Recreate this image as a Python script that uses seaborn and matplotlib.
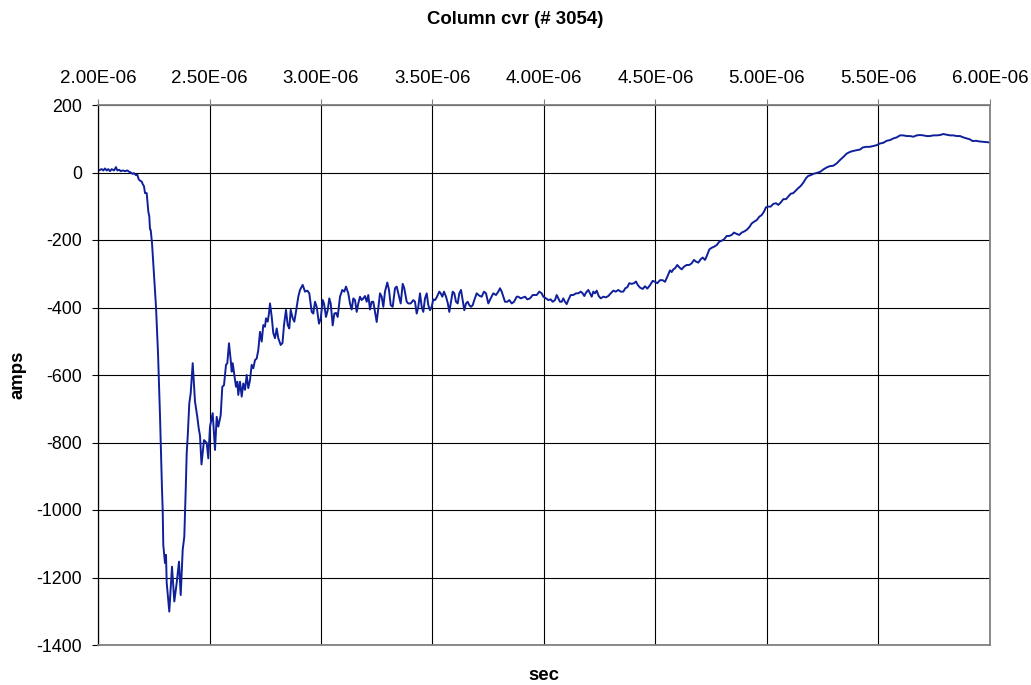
import numpy as np
import pandas as pd
import matplotlib
matplotlib.use("Agg")
import matplotlib.pyplot as plt
import matplotlib.ticker as mticker
import seaborn as sns

# Column current probe record, shot #3054 (time in microseconds, current in amps)
time_us = [
    2.0000, 2.0090, 2.0166, 2.0238, 2.0314, 2.0390, 2.0462, 2.0538, 2.0614, 2.0717,
    2.0807, 2.0865, 2.0955, 2.1018, 2.1108, 2.1211, 2.1314, 2.1404, 2.1466, 2.1556,
    2.1614, 2.1704, 2.1762, 2.1825, 2.1883, 2.1960, 2.2004, 2.2063, 2.2108, 2.2184,
    2.2256, 2.2300, 2.2332, 2.2363, 2.2422, 2.2480, 2.2556, 2.2601, 2.2646, 2.2691,
    2.2735, 2.2780, 2.2812, 2.2870, 2.2901, 2.2928, 2.3004, 2.3049, 2.3081, 2.3197,
    2.3318, 2.3422, 2.3529, 2.3632, 2.3709, 2.3798, 2.3870, 2.3933, 2.3978, 2.4022,
    2.4094, 2.4157, 2.4247, 2.4350, 2.4453, 2.4516, 2.4574, 2.4641, 2.4753, 2.4874,
    2.4946, 2.5022, 2.5143, 2.5247, 2.5323, 2.5395, 2.5502, 2.5574, 2.5650, 2.5740,
    2.5798, 2.5874, 2.5951, 2.5996, 2.6040, 2.6112, 2.6188, 2.6247, 2.6291, 2.6368,
    2.6444, 2.6516, 2.6592, 2.6668, 2.6740, 2.6816, 2.6892, 2.6964, 2.7040, 2.7117,
    2.7188, 2.7265, 2.7341, 2.7413, 2.7489, 2.7534, 2.7610, 2.7668, 2.7713, 2.7789,
    2.7861, 2.7937, 2.8013, 2.8085, 2.8193, 2.8274, 2.8341, 2.8430, 2.8507, 2.8578,
    2.8641, 2.8731, 2.8803, 2.8879, 2.8982,
    2.9058, 2.9179, 2.9283, 2.9386, 2.9475, 2.9583, 2.9655, 2.9731, 2.9807, 2.9910,
    2.9987, 3.0076, 3.0135, 3.0224, 3.0300, 3.0372, 3.0435, 3.0525, 3.0597, 3.0673,
    3.0749, 3.0852, 3.0955, 3.1045, 3.1121, 3.1224, 3.1300, 3.1377, 3.1448, 3.1525,
    3.1601, 3.1673, 3.1749, 3.1825, 3.1897, 3.1973, 3.2049, 3.2121, 3.2197, 3.2273,
    3.2345, 3.2422, 3.2498, 3.2570, 3.2646, 3.2722, 3.2794, 3.2870, 3.2973, 3.3049,
    3.3126, 3.3215, 3.3318, 3.3395, 3.3466, 3.3574, 3.3664, 3.3735, 3.3843, 3.3915,
    3.4022, 3.4139, 3.4215, 3.4291, 3.4363, 3.4439, 3.4516, 3.4587, 3.4664, 3.4740,
    3.4812, 3.4888, 3.4964, 3.5036, 3.5112, 3.5188, 3.5305, 3.5368, 3.5440, 3.5516,
    3.5605, 3.5682, 3.5753, 3.5830, 3.5906, 3.5978, 3.6054, 3.6130, 3.6202, 3.6278,
    3.6354, 3.6426, 3.6502, 3.6578, 3.6650, 3.6726, 3.6803, 3.6874, 3.6982, 3.7099,
    3.7206, 3.7309, 3.7399, 3.7502, 3.7610, 3.7726, 3.7848, 3.7951, 3.8027, 3.8103,
    3.8175, 3.8251, 3.8354, 3.8444, 3.8552, 3.8655, 3.8776, 3.8848, 3.8955, 3.9072,
    3.9148, 3.9251, 3.9372, 3.9493, 3.9596, 3.9673, 3.9789, 3.9897, 3.9969, 4.0090,
    4.0193, 4.0300, 4.0390, 4.0493, 4.0569, 4.0641, 4.0717, 4.0794, 4.0865, 4.0942,
    4.1018, 4.1090, 4.1197, 4.1314, 4.1435, 4.1538, 4.1646, 4.1735, 4.1807, 4.1883,
    4.1986, 4.2063, 4.2139, 4.2211, 4.2287, 4.2363, 4.2453, 4.2542, 4.2659, 4.2780,
    4.2883, 4.2991, 4.3108, 4.3215, 4.3332, 4.3439, 4.3556, 4.3646, 4.3735, 4.3825,
    4.3933, 4.4036, 4.4126, 4.4202, 4.4305, 4.4426, 4.4529, 4.4632, 4.4753, 4.4874,
    4.4978, 4.5081, 4.5202, 4.5323, 4.5426, 4.5529, 4.5650, 4.5726, 4.5798, 4.5874,
    4.5977, 4.6067, 4.6175, 4.6278, 4.6399, 4.6516, 4.6623, 4.6726, 4.6816, 4.6919,
    4.7027, 4.7117, 4.7220, 4.7296, 4.7413, 4.7520, 4.7623, 4.7744, 4.7861, 4.7969,
    4.8072, 4.8193, 4.8310, 4.8417, 4.8520, 4.8641, 4.8758, 4.8865, 4.8969, 4.9090,
    4.9206, 4.9314, 4.9417, 4.9538, 4.9655, 4.9762, 4.9865, 4.9955, 5.0058, 5.0166,
    5.0283, 5.0404, 5.0507, 5.0614, 5.0731, 5.0852, 5.0955, 5.1063, 5.1179, 5.1300,
    5.1404, 5.1511, 5.1628, 5.1749, 5.1852, 5.1959, 5.2076, 5.2197, 5.2300, 5.2408,
    5.2525, 5.2677, 5.2825, 5.2973, 5.3126, 5.3274, 5.3422, 5.3574, 5.3722, 5.3870,
    5.4022, 5.4170, 5.4291, 5.4439, 5.4587, 5.4740, 5.4919, 5.5067, 5.5215, 5.5368,
    5.5516, 5.5664, 5.5816, 5.5964, 5.6112, 5.6265, 5.6413, 5.6561, 5.6713, 5.6861,
    5.7009, 5.7161, 5.7309, 5.7457, 5.7610, 5.7758, 5.7906, 5.8058, 5.8206, 5.8354,
    5.8507, 5.8655, 5.8803, 5.8955, 5.9103, 5.9224, 5.9372, 5.9520, 5.9672, 5.9821,
    6.0000,
]

current_amps = [
    5, 8, 10, 6, 12, 6, 10, 4, 10, 6,
    16, 6, 8, 4, 6, 4, 6, 2, 0, -4,
    -2, -8, -6, -20, -24, -27, -34, -41, -61, -61,
    -116, -130, -168, -170, -209, -269, -348, -398, -466, -535,
    -624, -720, -801, -939, -1000, -1104, -1157, -1133, -1216, -1301,
    -1168, -1271, -1216, -1153, -1252, -1118, -1079, -941, -831, -783,
    -684, -654, -565, -679, -724, -758, -780, -865, -793, -801,
    -847, -753, -713, -822, -724, -753, -719, -635, -630, -570,
    -565, -506, -556, -590, -565, -600, -635, -620, -659, -620,
    -664, -625, -644, -600, -639, -615, -570, -580, -556, -551,
    -526, -472, -501, -452, -457, -432, -442, -417, -388, -427,
    -476, -491, -462, -491, -511, -505, -452, -407, -452, -462,
    -407, -432, -442, -412, -368,
    -348, -333, -353, -350, -358, -413, -418, -383, -398, -448,
    -433, -378, -388, -428, -408, -373, -388, -453, -418, -416,
    -428, -368, -348, -353, -338, -358, -388, -406, -373, -378,
    -413, -388, -368, -378, -373, -366, -383, -363, -406, -383,
    -383, -413, -443, -403, -358, -368, -398, -353, -326, -348,
    -393, -398, -343, -338, -358, -388, -330, -343, -383, -388,
    -388, -378, -383, -418, -398, -358, -398, -413, -373, -358,
    -393, -408, -398, -376, -378, -370, -353, -358, -368, -353,
    -368, -386, -413, -383, -353, -358, -383, -388, -358, -348,
    -378, -408, -388, -383, -393, -398, -393, -378, -358, -365,
    -368, -353, -358, -388, -373, -358, -363, -353, -343, -353,
    -368, -383, -383, -378, -388, -383, -368, -368, -373, -370,
    -368, -376, -373, -363, -363, -363, -353, -358, -368, -373,
    -378, -376, -383, -378, -363, -373, -383, -383, -373, -383,
    -390, -378, -363, -363, -358, -358, -353, -358, -366, -356,
    -348, -358, -368, -353, -358, -350, -366, -373, -368, -370,
    -366, -358, -350, -353, -348, -353, -353, -343, -340, -328,
    -330, -328, -323, -333, -341, -345, -337, -344, -334, -321,
    -324, -328, -319, -319, -324, -309, -290, -295, -287, -284,
    -274, -281, -287, -279, -274, -274, -269, -259, -264, -267,
    -257, -252, -259, -248, -228, -223, -220, -215, -205, -202,
    -198, -188, -188, -185, -178, -182, -185, -178, -175, -170,
    -162, -151, -146, -141, -131, -126, -116, -103, -101, -101,
    -93, -91, -96, -89, -79, -79, -71, -63, -61, -53,
    -46, -40, -30, -17, -10, -8, -4, -2, 0, 3,
    9, 15, 19, 20, 27, 37, 46, 56, 61, 64,
    66, 68, 74, 76, 76, 78, 81, 86, 88, 94,
    96, 101, 104, 110, 110, 108, 108, 106, 110, 111,
    110, 108, 108, 110, 110, 111, 114, 112, 110, 110,
    108, 108, 104, 101, 98, 93, 94, 92, 91, 90,
    89,
]

x_ticks = [2.0e-6, 2.5e-6, 3.0e-6, 3.5e-6, 4.0e-6, 4.5e-6, 5.0e-6, 5.5e-6, 6.0e-6]
y_ticks = [200, 0, -200, -400, -600, -800, -1000, -1200, -1400]

df = pd.DataFrame({"sec": np.array(time_us) * 1e-6, "amps": current_amps})

sns.set_style("white")
plt.rcParams["font.family"] = ["Liberation Sans", "DejaVu Sans"]
plt.rcParams["axes.unicode_minus"] = False
plt.rcParams["text.color"] = "black"
plt.rcParams["axes.labelcolor"] = "black"
plt.rcParams["xtick.color"] = "black"
plt.rcParams["ytick.color"] = "black"

fig = plt.figure(figsize=(10.31, 6.85), dpi=100)
ax = fig.add_axes([98 / 1031, 1 - 645 / 685, 892 / 1031, 540 / 685])

sns.lineplot(data=df, x="sec", y="amps", ax=ax, estimator=None, sort=False,
             color="#10209a", linewidth=1.4)

ax.set_xlim(2.0e-6, 6.0e-6)
ax.set_ylim(-1400, 200)
ax.set_xticks(x_ticks)
ax.set_yticks(y_ticks)
ax.xaxis.set_major_formatter(mticker.FuncFormatter(lambda v, p: "%.2E" % v))

# category axis labels along the top edge
ax.xaxis.tick_top()
ax.tick_params(axis="x", which="both", top=True, bottom=False, direction="out",
               length=4, width=0.8, color="#808080", labelsize=13.5, pad=9,
               labelcolor="black")
ax.tick_params(axis="y", direction="out", length=4.5, width=0.8, color="black",
               labelsize=12.8, pad=7, left=True, labelcolor="black")

ax.grid(True, color="black", linewidth=0.8)
ax.set_axisbelow(True)

for side in ("top", "right", "bottom"):
    ax.spines[side].set_color("#808080")
    ax.spines[side].set_linewidth(1.3)
ax.spines["left"].set_color("black")
ax.spines["left"].set_linewidth(0.9)

ax.set_xlabel("sec", fontsize=13.4, fontweight="bold", color="black")
ax.xaxis.set_label_position("bottom")
ax.xaxis.label.set_verticalalignment("center")
ax.xaxis.set_label_coords(0.5, -31 / 540)
ax.set_ylabel("amps", fontsize=13.4, fontweight="bold", color="black")
ax.yaxis.label.set_verticalalignment("center")
ax.yaxis.set_label_coords(-80 / 892, 0.5)

fig.text(0.5, 1 - 20 / 685, "Column cvr (# 3054)", ha="center", va="center",
         fontsize=13.4, fontweight="bold", color="black")

fig.savefig("out.png", dpi=100, facecolor="white")
